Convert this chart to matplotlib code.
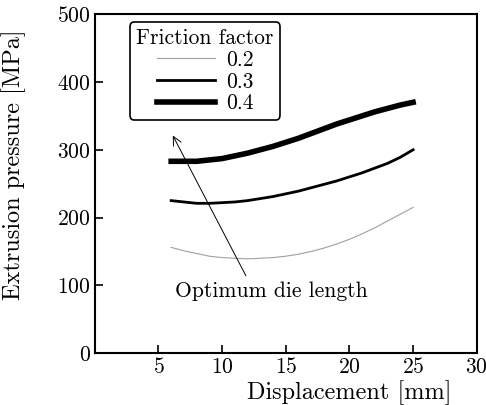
import matplotlib
matplotlib.use("Agg")
import matplotlib.pyplot as plt

plt.rcParams['font.family'] = 'serif'
plt.rcParams['font.serif'] = ['cmr10']
plt.rcParams['axes.formatter.use_mathtext'] = True
plt.rcParams['mathtext.fontset'] = 'cm'

disp = [6, 7, 8, 9, 10, 11, 12, 13, 14, 15, 16, 17, 18, 19, 20, 21, 22, 23, 24, 25]
p02 = [156, 151, 147, 143, 141, 140, 139, 140, 141, 143, 146, 150, 155, 161, 168, 176, 185, 195, 205, 215]
p03 = [225, 223, 221, 221, 222, 223, 225, 228, 231, 235, 239, 244, 249, 254, 260, 266, 273, 280, 289, 300]
p04 = [283, 283, 283, 285, 287, 291, 295, 300, 305, 311, 317, 324, 331, 338, 344, 350, 356, 361, 366, 370]
labels = ['0.2', '0.3', '0.4']
xticks = [5, 10, 15, 20, 25, 30]
yticks = [0, 100, 200, 300, 400, 500]

fig = plt.figure(figsize=(4.86, 4.05), dpi=100)
ax = fig.add_axes([0.195, 0.128, 0.786, 0.837])

ax.plot(disp, p02, color='#a0a0a0', lw=0.8, label=labels[0])
ax.plot(disp, p03, color='black', lw=2.0, label=labels[1])
ax.plot(disp, p04, color='black', lw=4.0, label=labels[2])

ax.set_xlim(0, 30)
ax.set_ylim(0, 500)
ax.set_xticks(xticks)
ax.set_yticks(yticks)
ax.tick_params(direction='in', length=6, width=1.2, labelsize=15.5, pad=3)
for s in ax.spines.values():
    s.set_linewidth(1.5)

ax.set_xlabel('Displacement [mm]', fontsize=17.5)
ax.xaxis.set_label_coords(0.665, -0.08)
ax.set_ylabel('Extrusion pressure [MPa]', fontsize=17.5)
ax.yaxis.set_label_coords(-0.18, 0.557)

leg = ax.legend(title='Friction factor', loc='upper left', bbox_to_anchor=(0.092, 0.976),
                borderaxespad=0,
                fontsize=15.5, title_fontsize=15.5, frameon=True, fancybox=True,
                edgecolor='black', handlelength=2.7, borderpad=0.3, labelspacing=0.1,
                handletextpad=0.5)
leg.get_frame().set_linewidth(1.2)
leg.get_frame().set_alpha(1)

ax.annotate('Optimum die length', xy=(6.13, 321), xytext=(13.9, 92),
            ha='center', va='center', fontsize=15.5,
            arrowprops=dict(arrowstyle='->', color='black', lw=0.7,
                            shrinkA=2, shrinkB=0, relpos=(0.38, 1.0)))

fig.savefig('out.png', dpi=100)
